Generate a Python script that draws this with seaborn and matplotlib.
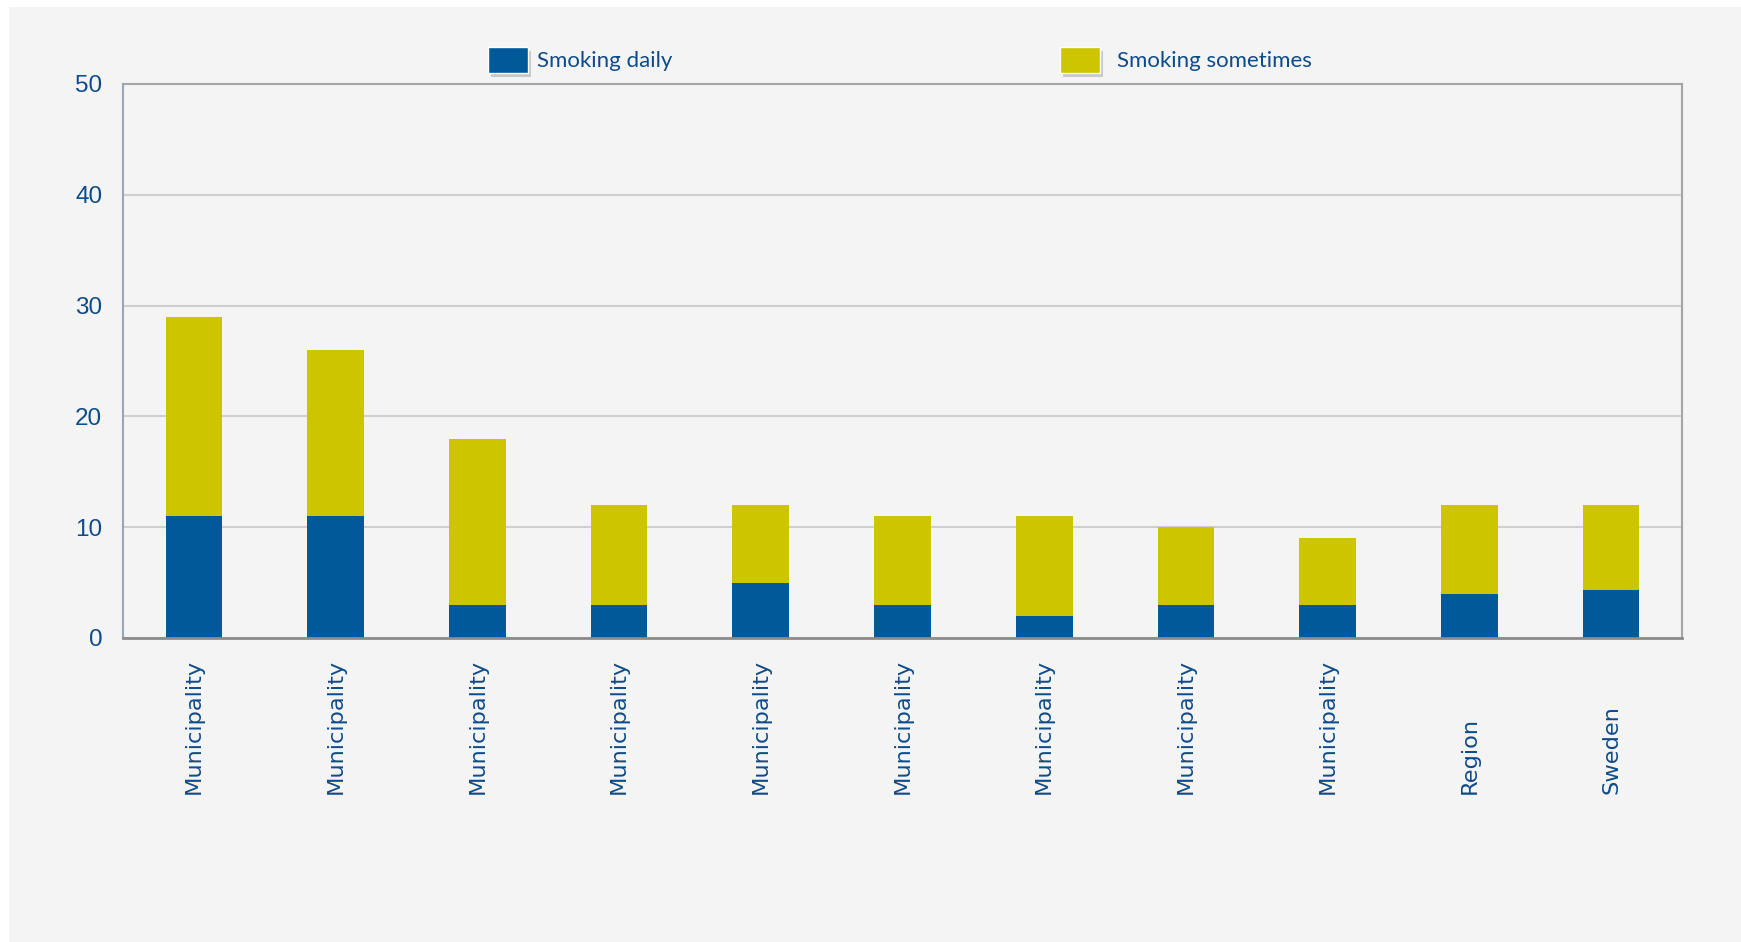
import pandas as pd
import matplotlib
matplotlib.use("Agg")
import matplotlib.pyplot as plt
import matplotlib.patheffects as pe
from matplotlib.patches import Rectangle, Patch
import seaborn as sns

# Share of people smoking, per area (percent)
categories = ["Municipality"] * 9 + ["Region", "Sweden"]
daily = [11, 11, 3, 3, 5, 3, 2, 3, 3, 4, 4.3]
sometimes = [18, 15, 15, 9, 7, 8, 9, 7, 6, 8, 7.7]
series_names = ["Smoking daily", "Smoking sometimes"]
y_ticks = [0, 10, 20, 30, 40, 50]

BLUE = "#005a9a"
YELLOW = "#ccc500"
TEXT = "#0e4b8b"
PANEL = "#f4f4f4"

sns.set_theme(style="white")
plt.rcParams["font.family"] = ["DejaVu Sans"]

df = pd.DataFrame({"pos": range(len(categories)), "daily": daily, "sometimes": sometimes})
df["total"] = df["daily"] + df["sometimes"]

W, H = 1741, 942
fig = plt.figure(figsize=(W / 100, H / 100), dpi=100, facecolor="white")
fig.patches.append(Rectangle((9 / W, 0), 1 - 9 / W, 1 - 7 / H, transform=fig.transFigure,
                             facecolor=PANEL, edgecolor="none", zorder=-10))
ax = fig.add_axes([123 / W, 304 / H, (1682 - 123) / W, (858 - 304) / H])
ax.set_facecolor(PANEL)

# Stacked bars: full height (daily + sometimes) in yellow, daily in blue on top
sns.barplot(data=df, x="pos", y="total", color=YELLOW, saturation=1, width=0.4,
            linewidth=0, errorbar=None, ax=ax)
sns.barplot(data=df, x="pos", y="daily", color=BLUE, saturation=1, width=0.4,
            linewidth=0, errorbar=None, ax=ax)

ax.set_xlim(-0.5, len(categories) - 0.5)
ax.set_ylim(0, 50)
ax.set_yticks(y_ticks)
ax.set_xlabel("")
ax.set_ylabel("")
ax.yaxis.grid(True, color="#cfcfcf", linewidth=1.5)
ax.set_axisbelow(True)

ax.set_xticks(range(len(categories)))
ax.set_xticklabels(categories, rotation=90, va="bottom", ha="center",
                   fontsize=16.2, color=TEXT)
ax.tick_params(axis="x", length=0, pad=112.5)
ax.tick_params(axis="y", length=0, pad=15, labelsize=17.5, labelcolor=TEXT)
for lab in ax.get_yticklabels():
    lab.set_fontfamily("Liberation Sans")

for side in ["top", "right"]:
    ax.spines[side].set_color("#a5a5a5")
    ax.spines[side].set_linewidth(1.5)
ax.spines["bottom"].set_color("#8c8c8c")
ax.spines["bottom"].set_linewidth(2)
ax.spines["left"].set_color("#9aa4bd")
ax.spines["left"].set_linewidth(1.5)

# Two separate legend entries placed across the top
handles = [Patch(facecolor=BLUE, label=series_names[0]),
           Patch(facecolor=YELLOW, label=series_names[1])]
for h, x, gap in zip(handles, [488 / W, 1060 / W], [0.4, 0.75]):
    leg = fig.legend(handles=[h], loc="center left", bbox_to_anchor=(x, 1 - 60 / H),
                     frameon=False, borderpad=0, borderaxespad=0,
                     handlelength=1.8, handleheight=1.45, handletextpad=gap,
                     prop={"family": "Lato", "size": 16}, labelcolor=TEXT)
    for lh in leg.legend_handles:
        lh.set_path_effects([pe.SimplePatchShadow(offset=(2, -3), shadow_rgbFace="black",
                                                  alpha=0.18), pe.Normal()])

fig.savefig("out.png", dpi=100, facecolor="white")
